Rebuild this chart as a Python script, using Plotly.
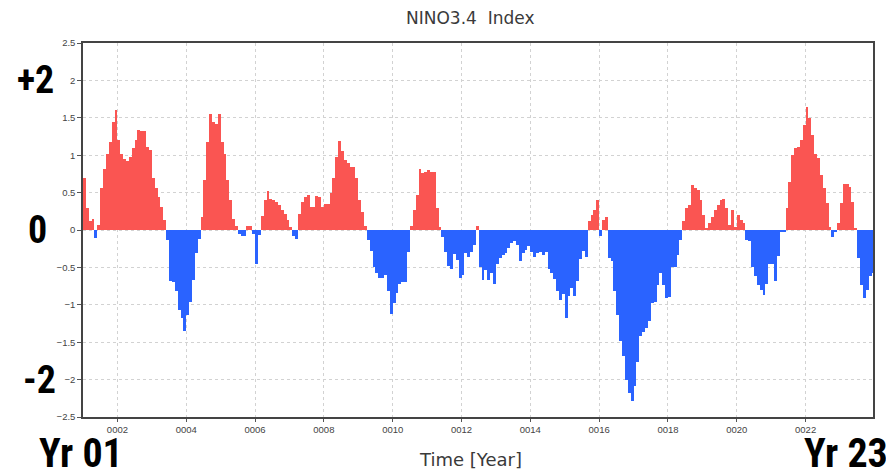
import plotly.graph_objects as go

# Monthly NINO3.4 index, Jan 0001 .. Dec 0023 (276 months)
nino34 = [
    0.69, 0.30, 0.12, 0.15, -0.11, 0.07, 0.56, 0.82, 1.02, 1.18, 1.45, 1.60,
    1.20, 1.02, 0.95, 0.92, 0.98, 1.09, 1.20, 1.34, 1.33, 1.33, 1.11, 1.07,
    0.70, 0.56, 0.44, 0.31, 0.13, -0.14, -0.68, -0.70, -0.82, -1.07, -1.18, -1.35,
    -1.13, -0.96, -0.67, -0.31, -0.12, 0.17, 0.67, 1.18, 1.55, 1.45, 1.42, 1.55,
    1.17, 1.02, 0.67, 0.40, 0.15, 0.06, -0.06, -0.08, -0.08, 0.05, 0.06, -0.06,
    -0.45, -0.07, 0.19, 0.40, 0.52, 0.42, 0.40, 0.38, 0.33, 0.27, 0.22, 0.13,
    0.04, -0.08, -0.12, 0.22, 0.38, 0.44, 0.47, 0.31, 0.31, 0.45, 0.44, 0.31,
    0.35, 0.35, 0.50, 0.70, 0.97, 1.19, 1.05, 0.93, 0.89, 0.84, 0.84, 0.70,
    0.40, 0.24, 0.05, -0.13, -0.28, -0.50, -0.58, -0.64, -0.64, -0.60, -0.82, -1.12,
    -0.98, -0.84, -0.72, -0.70, -0.69, -0.30, 0.05, 0.27, 0.47, 0.82, 0.76, 0.78,
    0.80, 0.78, 0.78, 0.30, 0.04, -0.10, -0.30, -0.48, -0.52, -0.32, -0.40, -0.64,
    -0.60, -0.31, -0.36, -0.30, -0.20, 0.06, -0.49, -0.67, -0.53, -0.67, -0.58, -0.72,
    -0.45, -0.38, -0.33, -0.31, -0.24, -0.18, -0.15, -0.20, -0.42, -0.31, -0.27, -0.22,
    -0.29, -0.36, -0.31, -0.29, -0.33, -0.29, -0.52, -0.58, -0.65, -0.82, -0.93, -0.85,
    -1.18, -0.88, -0.77, -0.88, -0.68, -0.39, -0.28, -0.36, 0.12, 0.20, 0.27, 0.40,
    -0.08, 0.13, 0.17, -0.38, -0.42, -0.82, -1.13, -1.49, -1.69, -2.00, -2.18, -2.29,
    -2.09, -1.76, -1.42, -1.36, -1.31, -1.22, -0.98, -0.96, -0.73, -0.58, -0.73, -0.91,
    -0.89, -0.49, -0.50, -0.33, -0.13, 0.12, 0.29, 0.33, 0.60, 0.56, 0.53, 0.40,
    0.20, 0.03, 0.10, 0.18, 0.27, 0.33, 0.40, 0.42, 0.30, 0.07, 0.27, 0.04,
    0.20, 0.14, 0.09, -0.13, -0.15, -0.50, -0.62, -0.73, -0.80, -0.87, -0.72, -0.45,
    -0.46, -0.68, -0.35, -0.03, -0.02, 0.29, 0.64, 1.00, 1.09, 1.11, 1.20, 1.40,
    1.64, 1.50, 1.27, 1.02, 0.96, 0.73, 0.56, 0.36, 0.04, -0.09, -0.03, 0.10,
    0.36, 0.62, 0.62, 0.58, 0.38, 0.03, -0.38, -0.73, -0.91, -0.80, -0.62, -0.58,
]

tick_years = ["0002", "0004", "0006", "0008", "0010", "0012",
              "0014", "0016", "0018", "0020", "0022"]
y_ticks = [-2.5, -2, -1.5, -1, -0.5, 0, 0.5, 1, 1.5, 2, 2.5]

RED = "#fa5552"
BLUE = "#2a63ff"

months = [i + 0.5 for i in range(len(nino34))]
colors = [RED if v >= 0 else BLUE for v in nino34]
tick_pos = [12 * int(t) - 12 for t in tick_years]

fig = go.Figure()
fig.add_trace(go.Bar(
    x=months, y=nino34, width=1.0,
    marker=dict(color=colors, line=dict(width=0)),
    hoverinfo="y",
))

axis_font = dict(family="Liberation Sans, DejaVu Sans, sans-serif", size=9.5, color="#444")
common = dict(
    ticks="outside", tickcolor="#555", tickfont=axis_font,
    showgrid=True, gridcolor="#d2d2d2", griddash="dot", gridwidth=1,
    showline=True, linecolor="#444", linewidth=1.5, mirror=True,
    zeroline=False, automargin=False,
)
fig.update_layout(
    width=886, height=466,
    margin=dict(l=75, r=21, t=35, b=57, autoexpand=False),
    paper_bgcolor="white", plot_bgcolor="white",
    showlegend=False, bargap=0,
    xaxis=dict(
        range=[0, 275.5], tickmode="array", tickvals=tick_pos, ticktext=tick_years,
        ticklen=3, **common,
    ),
    yaxis=dict(
        range=[-2.5, 2.5], tickmode="array", tickvals=y_ticks,
        ticktext=[("\u2212" if v < 0 else "") + f"{abs(v):g}" for v in y_ticks],
        ticklen=4, **common,
    ),
)

title_font = dict(family="DejaVu Sans, Liberation Sans, sans-serif", size=17, color="#3a3a3a")
fig.add_annotation(text="NINO3.4  Index", xref="paper", yref="paper",
                   x=0.49, y=1.067, showarrow=False, font=title_font,
                   xanchor="center", yanchor="middle")
fig.add_annotation(text="Time [Year]", xref="paper", yref="paper",
                   x=0.49, y=-0.113, showarrow=False, font=dict(title_font, size=18),
                   xanchor="center", yanchor="middle")

big_font = dict(family="Liberation Sans Narrow, Arial Narrow, Roboto Condensed, Liberation Sans, sans-serif",
                size=38, color="black")
for txt, yv, xp in [("+2", 2, -0.0595), ("0", 0, -0.058), ("-2", -2, -0.0545)]:
    fig.add_annotation(text="<b>" + txt + "</b>", xref="paper", yref="y",
                       x=xp, y=yv, showarrow=False, font=big_font,
                       xanchor="center", yanchor="middle")

yr_font = dict(big_font, size=40)
fig.add_annotation(text="<b>Yr 01</b>", xref="paper", yref="paper", x=-0.0025, y=-0.098,
                   showarrow=False, font=yr_font, xanchor="center", yanchor="middle")
fig.add_annotation(text="<b>Yr 23</b>", xref="paper", yref="paper", x=0.966, y=-0.098,
                   showarrow=False, font=yr_font, xanchor="center", yanchor="middle")

fig.write_html("out.html")
